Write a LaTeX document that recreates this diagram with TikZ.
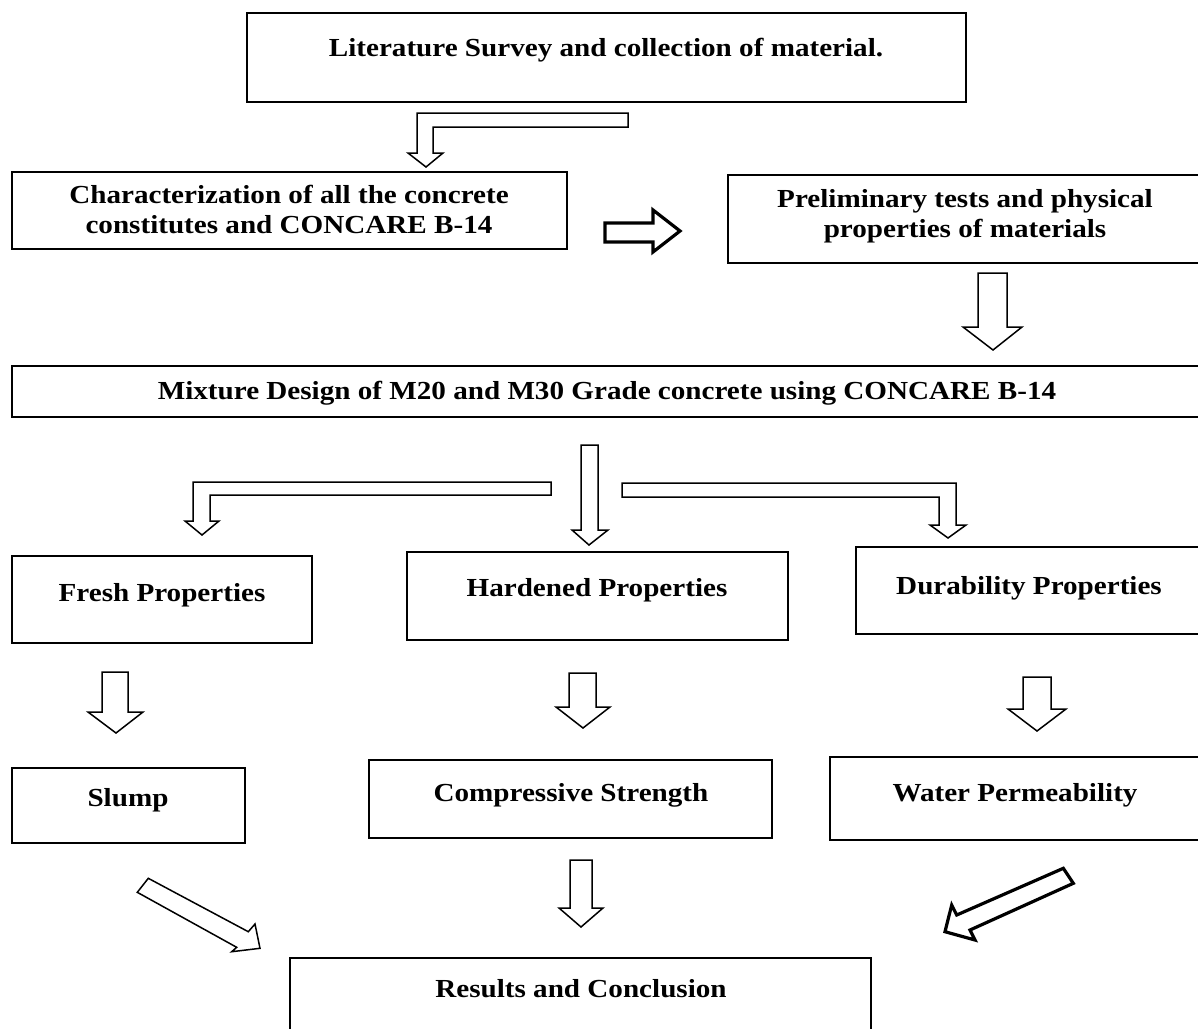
\documentclass[tikz,border=0pt]{standalone}
\usepackage{fontspec}
\setmainfont{Liberation Serif}[FakeStretch=1.12]
\begin{document}
\begin{tikzpicture}[x=1pt,y=-1pt]
\tikzset{
  box/.style={draw=black, line width=2pt},
  lbl/.style={font=\bfseries\fontsize{26}{30}\selectfont, inner sep=0pt, anchor=base},
  blk/.style={draw=black, line width=1.5pt, fill=white, line join=miter},
  blkthick/.style={draw=black, line width=3.2pt, fill=white, line join=miter}
}
\useasboundingbox (0,0) rectangle (1198,1028);
\fill[white] (0,0) rectangle (1198,1028);

% top boxes
\draw[box] (247,13) rectangle (966,102);
\node[lbl] (lit) at (606,56) {Literature Survey and collection of material.};
\draw[box] (12,172) rectangle (567,249);
\node[lbl] (chara) at (289,203) {Characterization of all the concrete};
\node[lbl] (charb) at (289,233) {constitutes and CONCARE B-14};
\draw[box] (728,175) rectangle (1210,263);
\node[lbl] (prea) at (965,207) {Preliminary tests and physical};
\node[lbl] (preb) at (965,237) {properties of materials};
\draw[box] (12,366) rectangle (1210,417);
\node[lbl] (mix) at (607,399) {Mixture Design of M20 and M30 Grade concrete using CONCARE B-14};

% top arrows
\draw[blk] (628,113) -- (417,113) -- (417,153) -- (408,153) -- (426,167) -- (443,153) -- (433,153) -- (433,127) -- (628,127) -- cycle;
\draw[blkthick] (605,223) -- (653,223) -- (653,210) -- (680,231) -- (653,252) -- (653,242) -- (605,242) -- cycle;
\draw[blk] (978,273) -- (1007,273) -- (1007,327) -- (1022,327) -- (993,350) -- (963,327) -- (978,327) -- cycle;

% branch arrows
\draw[blk] (581,445) -- (598,445) -- (598,530) -- (608,530) -- (589,545) -- (572,530) -- (581,530) -- cycle;
\draw[blk] (551,482) -- (193,482) -- (193,521) -- (185,521) -- (202,535) -- (219,521) -- (210,521) -- (210,495) -- (551,495) -- cycle;
\draw[blk] (622,483) -- (956,483) -- (956,525) -- (966,525) -- (948,538) -- (930,525) -- (939,525) -- (939,497) -- (622,497) -- cycle;

% middle boxes
\draw[box] (12,556) rectangle (312,643);
\node[lbl] (fresh) at (162,601) {Fresh Properties};
\draw[box] (407,552) rectangle (788,640);
\node[lbl] (hard) at (597,596) {Hardened Properties};
\draw[box] (856,547) rectangle (1210,634);
\node[lbl] (dur) at (1029,594) {Durability Properties};

% row 2 arrows
\draw[blk] (102,672) -- (128,672) -- (128,712) -- (143,712) -- (116,733) -- (88,712) -- (102,712) -- cycle;
\draw[blk] (569,673) -- (596,673) -- (596,707) -- (610,707) -- (583,728) -- (556,707) -- (569,707) -- cycle;
\draw[blk] (1023,677) -- (1051,677) -- (1051,709) -- (1066,709) -- (1037,731) -- (1008,709) -- (1023,709) -- cycle;

% bottom boxes
\draw[box] (12,768) rectangle (245,843);
\node[lbl] (slump) at (128,806) {Slump};
\draw[box] (369,760) rectangle (772,838);
\node[lbl] (comp) at (571,801) {Compressive Strength};
\draw[box] (830,757) rectangle (1210,840);
\node[lbl] (water) at (1015,801) {Water Permeability};

% lower arrows
\draw[blk] (570,860) -- (592,860) -- (592,908) -- (603,908) -- (581,927) -- (559,908) -- (570,908) -- cycle;
\draw[blk] (148.3,878.3) -- (248.3,931.7) -- (255,924) -- (260,948.3) -- (231.7,951.7) -- (236.7,947.3) -- (137.3,892.3) -- cycle;
\draw[blkthick] (1063.3,868.3) -- (956.7,915) -- (951.7,905) -- (945,931.7) -- (975,940) -- (970,930) -- (1073.3,883.3) -- cycle;

% results
\draw[box] (290,1045) -- (290,958) -- (871,958) -- (871,1045);
\node[lbl] (res) at (581,997) {Results and Conclusion};
\end{tikzpicture}
\end{document}
